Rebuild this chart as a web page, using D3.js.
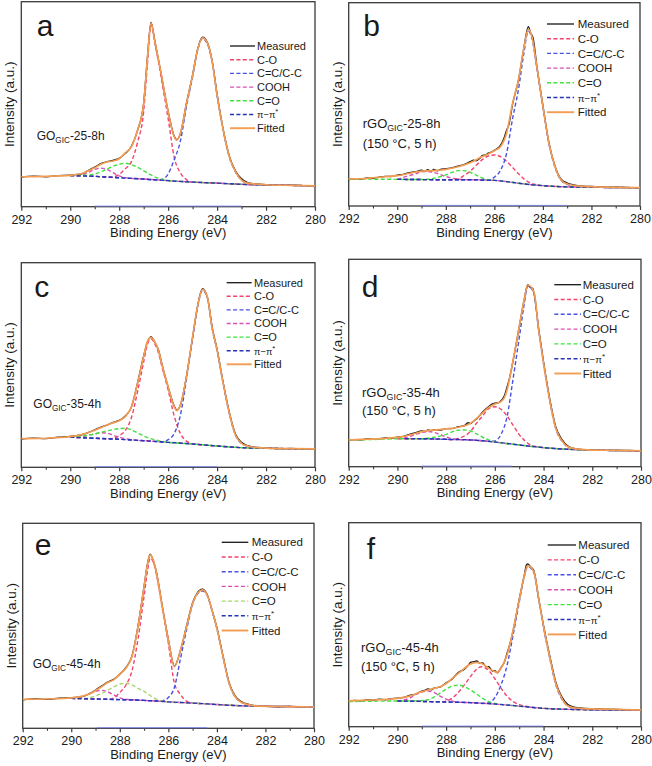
<!DOCTYPE html>
<html><head><meta charset="utf-8">
<script src="https://cdn.jsdelivr.net/npm/d3@7"></script>
<style>
body{margin:0;background:#fff}
svg{display:block}
text{font-family:"Liberation Sans",Arial,Helvetica,sans-serif;fill:#1a1a1a}
</style>
</head><body>
<svg id="chart" width="652" height="766"></svg>
<script>
// ---------- shared labels / ticks ----------
const seriesNames = ["Measured","C-O","C=C/C-C","COOH","C=O","π−π","Fitted"];
const majorTicks = [292,290,288,286,284,282,280];
const minorTicks = [291,289,287,285,283,281];
const xTitle = "Binding Energy (eV)";
const yTitle = "Intensity (a.u.)";

// ---------- panel a : GO_GIC-25-8h ----------
const a_measured = [[292,14.4],[291.5,14.9],[291,14.6],[290.5,15.2],[290,15.4],[289.5,16.1],[289.25,17.8],[289,19.3],[288.75,21.0],[288.5,21.9],[288.25,22.6],[288,23.6],[287.75,26.0],[287.5,29.5],[287.25,37.2],[287,50.6],[286.85,72.3],[286.7,89.9],[286.55,81.3],[286.4,72],[286.25,62.4],[286,46.5],[285.75,34.3],[285.65,32.7],[285.5,35.6],[285.25,50.6],[285,64.3],[284.8,76.6],[284.6,82.7],[284.4,80.2],[284.2,70.9],[284,54.8],[283.75,37.6],[283.5,24.7],[283.25,17.5],[283,13.6],[282.75,11.8],[282.5,11.2],[282,10.8],[281.5,10.4],[281,10.5],[280.5,10.3],[280,10.2]];
const a_fitted = [[292,14.6],[291,14.8],[290.5,15.0],[290,15.3],[289.5,16.3],[289.25,17.6],[289,19.0],[288.75,20.7],[288.5,21.8],[288.25,22.3],[288,23.4],[287.75,26.3],[287.5,29.3],[287.25,37.4],[287,50.4],[286.85,72],[286.7,89.6],[286.55,81],[286.4,72],[286.25,62.6],[286,46.3],[285.75,34.1],[285.65,32.5],[285.5,35.8],[285.25,50.4],[285,64.2],[284.8,76.4],[284.6,82.4],[284.4,80],[284.2,70.7],[284,54.5],[283.75,37.4],[283.5,24.4],[283.25,17.1],[283,13.0],[282.75,11.5],[282.5,11.1],[282,10.7],[281,10.4],[280,10.2]];
const a_bg = [[290,15.2],[289,14.8],[288,14.1],[287,13.5],[286,12.7],[285,12.0],[284,11.5],[283,10.9],[282,10.6],[281,10.4],[280,10.2]];
const a_CO = [[288.5,14.45],[288.25,14.5],[288,15.8],[287.75,18.5],[287.5,22],[287.25,31.4],[287,46.5],[286.85,69],[286.7,88.8],[286.55,80],[286.4,71],[286.25,60.5],[286,43],[285.75,24],[285.5,16.5],[285.25,13.2],[285,12.0]];
const a_CC = [[286.5,13.0],[286.25,13.3],[286,16],[285.75,23],[285.5,32],[285.25,49],[285,63.5],[284.8,76],[284.6,82],[284.4,79.5],[284.2,70.5],[284,54.3],[283.75,37.2],[283.5,24.2],[283.25,17],[283,12.9],[282.75,11.4],[282.5,11.0]];
const a_COOH = [[289.75,15.1],[289.5,15.6],[289.25,16.8],[289,18.2],[288.75,18.8],[288.5,18.2],[288.25,16.6],[288,15.0],[287.75,14.2],[287.5,13.8]];
const a_CEO = [[289.5,15.2],[289,16],[288.5,18.3],[288.25,19.7],[288,20.7],[287.75,21.2],[287.5,20.5],[287.25,19.3],[287,17.5],[286.75,15.8],[286.5,14.3],[286.25,13.3],[286,12.8]];
const a_PI = [[290,15.2]];
const a_start = [290,290,290,290,290];
const a_zero = [289,283];

// ---------- panel b : rGO_GIC-25-8h ----------
const b_measured = [[292,13.0],[291.75,13.4],[291.5,13.2],[291.25,13.8],[291,13.6],[290.75,14.2],[290.5,14.6],[290.25,14.5],[290,15.2],[289.75,15.6],[289.5,16.4],[289.25,16.9],[289,17.6],[288.85,17.0],[288.75,17.9],[288.6,17.1],[288.5,18.0],[288.35,17.3],[288.25,17.9],[288,18.4],[287.75,18.8],[287.5,19.6],[287.25,20.4],[287,21.8],[286.85,22.6],[286.75,22.2],[286.6,23.4],[286.5,24.8],[286.35,25.2],[286.25,26.0],[286.1,26.6],[286,27.4],[285.75,29.8],[285.6,33.5],[285.5,37.2],[285.4,40],[285.25,50],[285,62.3],[284.8,76.5],[284.6,88.2],[284.5,85],[284.4,82.5],[284.25,69],[284,49.5],[283.75,31],[283.5,19.6],[283.25,13.2],[283,11.3],[282.75,10.4],[282.5,9.9],[282,9.6],[281.5,9.3],[281,9.3],[280.5,9.1],[280,9.0]];
const b_fitted = [[292,13.3],[291.5,13.4],[291,13.9],[290.5,14.4],[290,14.9],[289.5,16.1],[289,17.2],[288.5,17.4],[288,18.0],[287.5,19.3],[287,21.3],[286.5,24.3],[286.25,25.6],[286,27.2],[285.75,29.2],[285.5,35.7],[285.25,50.5],[285,62.5],[284.8,76.7],[284.6,86.9],[284.45,83.3],[284.25,68.5],[284,48.9],[283.75,30.8],[283.5,19.3],[283.25,12.8],[283,10.8],[282.75,10.2],[282.5,9.8],[282,9.5],[281,9.2],[280,9.0]];
const b_bg = [[292,13.3],[291,13.2],[290,13.1],[289,13.0],[288,12.9],[287,12.9],[286.5,12.8],[286,12.6],[285.5,12.0],[285,11.2],[284.5,10.5],[284,10.0],[283,9.4],[282,9.2],[281,9.1],[280,9.0]];
const b_CO = [[287.75,12.9],[287.5,13.3],[287.25,15],[287,17],[286.75,20],[286.5,22.8],[286.25,24.6],[286,25.1],[285.75,24.3],[285.5,22],[285.25,19],[285,15.8],[284.75,13],[284.5,11.2],[284.25,10.4]];
const b_CC = [[286.25,12.7],[286,14.2],[285.75,17.5],[285.5,25.7],[285.25,43],[285,57.8],[284.8,74],[284.6,86],[284.45,82.5],[284.25,68],[284,48.5],[283.75,30.5],[283.5,19],[283.25,12.6],[283,10.6],[282.75,10],[282.5,9.7]];
const b_COOH = [[290,13.1],[289.5,15.0],[289.25,15.8],[289,16.8],[288.75,16.9],[288.5,16.5],[288.25,15.6],[288,14.5],[287.5,13.2],[287,12.9]];
const b_CEO = [[289,13.0],[288.5,13.6],[288,15.3],[287.75,16.5],[287.5,17.4],[287.25,17.4],[287,16.6],[286.75,15.2],[286.5,13.8],[286.25,12.9],[286,12.6]];
const b_PI = [[290,13.1]];
const b_start = [290,290,290,292,290];
const b_zero = [289,283];

// ---------- panel c : GO_GIC-35-4h ----------
const c_measured = [[292,13.8],[291.5,14.3],[291,14.0],[290.5,14.7],[290,15.1],[289.5,16.0],[289,18.3],[288.75,19.7],[288.5,20.6],[288.25,22.0],[288,22.9],[287.75,25.1],[287.5,29.4],[287.25,41.3],[287,54.4],[286.85,61.0],[286.7,63.9],[286.55,61.2],[286.4,57.6],[286.25,50.3],[286,39.2],[285.75,29.9],[285.65,27.9],[285.5,30.3],[285.25,44.6],[285,63.6],[284.8,78.7],[284.6,87.3],[284.4,83.2],[284.2,68.4],[284,57.6],[283.75,41.3],[283.5,26.8],[283.25,16.3],[283,12.2],[282.75,10.6],[282.5,9.9],[282,9.5],[281.5,9.1],[281,9.2],[280.5,9.0],[280,9.0]];
const c_fitted = [[292,14.0],[291,14.2],[290.5,14.5],[290,15.0],[289.5,16.1],[289,18.1],[288.75,19.4],[288.5,20.7],[288.25,21.7],[288,22.8],[287.75,24.8],[287.5,29.6],[287.25,41.0],[287,54.1],[286.85,61.4],[286.7,63.5],[286.55,61.4],[286.4,57.3],[286.25,50.0],[286,39.4],[285.75,29.6],[285.65,27.7],[285.5,30.5],[285.25,44.3],[285,63.8],[284.8,78.5],[284.6,87.0],[284.4,83.4],[284.2,68.0],[284,57.3],[283.75,41.0],[283.5,26.4],[283.25,15.8],[283,11.7],[282.75,10.4],[282.5,9.8],[282,9.4],[281,9.1],[280,9.0]];
const c_bg = [[290,14.7],[289,14.2],[288,13.7],[287,13.0],[286,12.2],[285,11.4],[284,10.4],[283,9.6],[282,9.3],[281,9.1],[280,9.0]];
const c_CO = [[288.5,13.95],[288.25,14.1],[288,15.5],[287.75,18],[287.5,24.3],[287.25,37],[287,51.5],[286.85,60],[286.7,62.8],[286.55,60.5],[286.4,56],[286.25,49],[286,37.8],[285.75,25],[285.5,16.5],[285.25,12.8],[285,11.5]];
const c_CC = [[286.5,12.6],[286.25,12.4],[286,13.5],[285.75,16.5],[285.5,25.5],[285.25,43],[285,63],[284.8,78],[284.6,86.5],[284.4,83],[284.2,67.6],[284,57],[283.75,40.8],[283.5,26.2],[283.25,15.7],[283,11.6],[282.75,10.3],[282.5,9.7]];
const c_COOH = [[289.75,14.6],[289.5,15.0],[289.25,15.7],[289,16.3],[288.75,16.9],[288.5,16.7],[288.25,15.7],[288,14.6],[287.75,14.0],[287.5,13.5],[287.25,13.1]];
const c_CEO = [[289.5,15.2],[289,16.3],[288.5,17.8],[288,18.9],[287.75,19.1],[287.5,18.3],[287.25,16.8],[287,15.3],[286.5,13.3],[286.25,12.6],[286,12.2]];
const c_PI = [[290,14.7]];
const c_start = [290,290,290,290,290];
const c_zero = [289,284];

// ---------- panel d : rGO_GIC-35-4h ----------
const d_measured = [[292,12.7],[291.75,13.1],[291.5,12.9],[291.25,13.5],[291,13.2],[290.75,13.4],[290.5,13.9],[290.25,13.6],[290,14.3],[289.75,14.6],[289.5,15.6],[289.25,16.4],[289,17.3],[288.85,16.9],[288.75,17.8],[288.6,17.3],[288.5,17.9],[288.25,17.6],[288,18.4],[287.75,18.4],[287.5,19.3],[287.25,19.8],[287.1,21.2],[287,20.8],[286.85,22.2],[286.75,23.0],[286.5,26.4],[286.25,29.0],[286.1,30.3],[286,30.6],[285.85,30.9],[285.75,31.8],[285.6,34.5],[285.5,38.5],[285.4,42.6],[285.25,51.2],[285,67.3],[284.8,80.2],[284.65,87.8],[284.55,86.5],[284.45,86.0],[284.4,84.0],[284.2,66.5],[284,50.5],[283.75,33.0],[283.5,19.3],[283.25,13.2],[283,10.0],[282.75,8.8],[282.5,8.4],[282,8.1],[281.5,7.9],[281,7.9],[280.5,7.8],[280,7.7]];
const d_fitted = [[292,12.9],[291.5,13.2],[291,13.3],[290.5,13.7],[290,14.1],[289.5,15.3],[289,16.9],[288.75,17.4],[288.5,17.7],[288,18.2],[287.5,19.0],[287,20.9],[286.75,23.3],[286.5,26.0],[286.25,28.6],[286,30.2],[285.75,31.4],[285.6,33.5],[285.5,37.0],[285.25,51.4],[285,67.5],[284.8,80.4],[284.65,87.6],[284.4,84.4],[284.2,65.9],[284,49.8],[283.75,32.2],[283.5,18.5],[283.25,12.5],[283,9.6],[282.75,8.7],[282.5,8.4],[282,8.0],[281,7.9],[280,7.7]];
const d_bg = [[292,12.9],[291,13.1],[290,13.5],[289,13.5],[288,13.2],[287,12.9],[286.5,12.5],[286,11.9],[285,10.5],[284,9.2],[283,8.4],[282,8.0],[281,7.8],[280,7.7]];
const d_CO = [[287.75,13.0],[287.5,13.6],[287.25,14.8],[287,17],[286.75,21],[286.5,24.5],[286.25,28],[286,28.9],[285.75,27.7],[285.5,24.5],[285.25,20],[285,15.5],[284.75,12.3],[284.5,10.2],[284.25,9.6]];
const d_CC = [[286.25,12.2],[286,12.4],[285.75,15.5],[285.5,24],[285.25,42.5],[285,62],[284.8,78],[284.65,87],[284.4,84],[284.2,65.5],[284,49.5],[283.75,32],[283.5,18.4],[283.25,12.4],[283,9.5],[282.75,8.6],[282.5,8.3]];
const d_COOH = [[290,13.5],[289.5,14.5],[289.25,15.6],[289,16.5],[288.75,16.9],[288.5,16.5],[288.25,15.5],[288,14.3],[287.75,13.5],[287.5,13.1]];
const d_CEO = [[289,13.5],[288.5,14.2],[288,15.6],[287.75,16.8],[287.5,17.6],[287.25,17.7],[287,17.2],[286.75,15.8],[286.5,14.2],[286.25,12.9],[286,12.0]];
const d_PI = [[289.7,13.5]];
const d_start = [290,289.7,290,292,289.7];
const d_zero = [289,285.3];

// ---------- panel e : GO_GIC-45-4h ----------
const e_measured = [[292,13.9],[291.5,14.4],[291,14.1],[290.5,14.7],[290,14.9],[289.5,15.6],[289.25,16.9],[289,18.7],[288.75,20.6],[288.5,22.5],[288.25,23.9],[288,26.4],[287.75,29.6],[287.5,35.2],[287.25,49.9],[287,69.3],[286.85,80.8],[286.75,85.0],[286.6,81.0],[286.5,76.7],[286.25,59.6],[286,43.4],[285.75,30.4],[285.5,38.0],[285.25,49.9],[285,61.3],[284.8,66.2],[284.6,67.9],[284.4,65.3],[284.2,57.5],[284,49.1],[283.75,35.4],[283.5,22.4],[283.25,15.8],[283,13.0],[282.75,11.9],[282.5,11.2],[282,10.8],[281.5,10.5],[281,10.7],[280.5,10.5],[280,10.4]];
const e_fitted = [[292,14.1],[291,14.3],[290.5,14.5],[290,14.8],[289.5,15.8],[289.25,16.7],[289,18.4],[288.75,20.3],[288.5,22.3],[288.25,23.6],[288,26.5],[287.75,29.3],[287.5,35.0],[287.25,49.6],[287,69.1],[286.85,80.5],[286.75,84.6],[286.6,81.3],[286.5,76.4],[286.25,59.3],[286,43.1],[285.75,30.1],[285.5,38.2],[285.25,49.6],[285,61],[284.8,65.9],[284.6,67.5],[284.4,65],[284.2,57.7],[284,48.8],[283.75,35],[283.5,22],[283.25,15.4],[283,12.7],[282.75,11.7],[282.5,11.1],[282,10.7],[281,10.6],[280,10.4]];
const e_bg = [[290,14.6],[289,14.3],[288,14.0],[287,13.6],[286.5,13.3],[286,12.9],[285,12.3],[284.4,11.9],[284,11.6],[283,11.0],[282,10.7],[281,10.6],[280,10.4]];
const e_CO = [[288.5,14.15],[288.25,14.8],[288,17.5],[287.75,21],[287.5,28],[287.25,43.5],[287,64.5],[286.85,77.5],[286.75,83],[286.6,80.5],[286.5,75.5],[286.25,58.5],[286,41.5],[285.75,22],[285.5,16.5],[285.25,13.2],[285,12.3]];
const e_CC = [[286.5,13.3],[286.25,13.4],[286,15],[285.75,20],[285.5,34],[285.25,48],[285,60.5],[284.8,65.5],[284.6,67],[284.4,64.8],[284.2,57.5],[284,48.6],[283.75,35],[283.5,22],[283.25,15.4],[283,12.7],[282.75,11.6],[282.5,11.0]];
const e_COOH = [[289.75,14.8],[289.5,15.6],[289.25,17.0],[289,18],[288.75,18.5],[288.5,17.8],[288.25,16.3],[288,14.8],[287.75,14.2]];
const e_CEO = [[289.5,14.5],[289,15.8],[288.5,18.5],[288.25,20.2],[288,21.5],[287.75,22],[287.5,21.2],[287.25,19.5],[287,18],[286.75,16],[286.5,14.2],[286.25,13.3],[286,12.9]];
const e_PI = [[290,14.6]];
const e_start = [290,290,290,290,290];
const e_zero = [288.95,284.4];

// ---------- panel f : rGO_GIC-45-4h ----------
const f_measured = [[292,12.4],[291.75,12.9],[291.5,12.7],[291.25,13.2],[291,13.0],[290.75,13.5],[290.5,13.2],[290.25,13.8],[290,14.0],[289.75,14.4],[289.5,15.3],[289.25,16.0],[289,17.5],[288.85,17.9],[288.75,18.5],[288.6,18.1],[288.5,18.9],[288.25,19.4],[288,21.5],[287.75,23.4],[287.5,26.6],[287.25,28.2],[287.1,30.0],[287,31.5],[286.85,31.9],[286.75,32.2],[286.6,31.0],[286.5,31.3],[286.35,29.2],[286.25,29.4],[286.1,27.3],[286,27.5],[285.9,26.4],[285.75,28.9],[285.6,32.0],[285.5,36],[285.4,39.8],[285.25,47.0],[285,62.5],[284.8,73.8],[284.7,79.3],[284.65,79.8],[284.55,78.5],[284.4,76.5],[284.2,62.6],[284,49.6],[283.75,35.0],[283.5,22.0],[283.25,14.6],[283,10.9],[282.75,9.6],[282.5,9.2],[282,8.8],[281.5,8.6],[281,8.5],[280.5,8.3],[280,8.2]];
const f_fitted = [[292,12.7],[291.5,12.9],[291,13.1],[290.5,13.4],[290,13.9],[289.5,15.0],[289,17.2],[288.75,18.0],[288.5,18.8],[288.25,19.6],[288,21.2],[287.75,23.7],[287.5,26.1],[287.25,28.6],[287,30.7],[286.75,31.5],[286.5,30.7],[286.25,28.6],[286,27.0],[285.9,26.6],[285.75,28.6],[285.5,35.1],[285.25,47.4],[285,62.1],[284.8,73.5],[284.65,79.0],[284.4,76.0],[284.2,62.9],[284,49],[283.75,34.3],[283.5,21.2],[283.25,13.9],[283,10.1],[282.75,9.3],[282.5,9.0],[282,8.7],[281,8.5],[280,8.2]];
const f_bg = [[292,12.3],[291,12.5],[290,12.6],[289,12.4],[288,12.1],[287,11.8],[286,11.1],[285,10.1],[284,9.0],[283,8.5],[282,8.3],[281,8.2],[280,8.2]];
const f_CO = [[288.25,12.15],[288,12.5],[287.75,14],[287.5,16.8],[287.25,20.5],[287,24.6],[286.75,28.2],[286.55,29.4],[286.25,27.5],[286,23.5],[285.75,19],[285.5,15],[285.25,12.3],[285,10.8],[284.75,10.0]];
const f_CC = [[286.5,11.4],[286.25,11.7],[286,14.3],[285.75,20.4],[285.5,30],[285.25,45],[285,61],[284.8,73],[284.65,78.5],[284.4,75.5],[284.2,62.5],[284,48.5],[283.75,33.8],[283.5,20.8],[283.25,13.6],[283,10.1],[282.75,9.2],[282.5,8.9]];
const f_COOH = [[290,12.6],[289.5,14.0],[289.25,15.8],[289,17],[288.75,17.5],[288.5,16.8],[288.25,15],[288,13.5],[287.75,12.5],[287.5,12.0]];
const f_CEO = [[289,12.7],[288.75,13.2],[288.5,14.5],[288.25,16.5],[288,18.4],[287.75,19.9],[287.5,20.4],[287.25,19.7],[287,18],[286.75,16],[286.5,13.9],[286.25,12.3],[286,11.4]];
const f_PI = [[290,12.6]];
const f_start = [290,290,290,292,290];
const f_zero = [289,284];

// ---------- panel table ----------
const panels = [
  {id:"a", name:["GO","GIC","-25-8h"], line2:null, measured:a_measured, fitted:a_fitted, bg:a_bg, comps:[a_CO,a_CC,a_COOH,a_CEO,a_PI], starts:a_start, zero:a_zero},
  {id:"b", name:["rGO","GIC","-25-8h"], line2:"(150 °C, 5 h)", measured:b_measured, fitted:b_fitted, bg:b_bg, comps:[b_CO,b_CC,b_COOH,b_CEO,b_PI], starts:b_start, zero:b_zero},
  {id:"c", name:["GO","GIC","-35-4h"], line2:null, measured:c_measured, fitted:c_fitted, bg:c_bg, comps:[c_CO,c_CC,c_COOH,c_CEO,c_PI], starts:c_start, zero:c_zero},
  {id:"d", name:["rGO","GIC","-35-4h"], line2:"(150 °C, 5 h)", measured:d_measured, fitted:d_fitted, bg:d_bg, comps:[d_CO,d_CC,d_COOH,d_CEO,d_PI], starts:d_start, zero:d_zero},
  {id:"e", name:["GO","GIC","-45-4h"], line2:null, measured:e_measured, fitted:e_fitted, bg:e_bg, comps:[e_CO,e_CC,e_COOH,e_CEO,e_PI], starts:e_start, zero:e_zero},
  {id:"f", name:["rGO","GIC","-45-4h"], line2:"(150 °C, 5 h)", measured:f_measured, fitted:f_fitted, bg:f_bg, comps:[f_CO,f_CC,f_COOH,f_CEO,f_PI], starts:f_start, zero:f_zero}
];

// ---------- layout / style (positions, not data) ----------
const layout = {
  a:{x0:21.3,x1:315,y0:1.7,y1:206.7, letter:[15.5,34.5], sample:[15.4,138.2,0,12], legend:[208.7,233.7,235.7,44.3,13.7,11]},
  b:{x0:348.7,x1:640,y0:2.7,y1:206, letter:[14.5,33.5], sample:[14,124.8,145.6,13], legend:[198.3,225.3,229,21.3,14.7,11.5]},
  c:{x0:21.3,x1:315,y0:262.7,y1:467.3, letter:[13,34], sample:[12,145.6,0,12], legend:[205.4,230.4,232.7,20,13.6,11]},
  d:{x0:348.7,x1:641,y0:259.3,y1:466.7, letter:[13,37.4], sample:[13.3,137.4,155.7,13], legend:[205.6,232.3,234,25.4,14.8,11.5]},
  e:{x0:22.7,x1:314,y0:523.3,y1:728.3, letter:[12,31.7], sample:[10,145,0,12], legend:[199,225.6,229,19,14.7,11.5]},
  f:{x0:348.7,x1:641,y0:522.7,y1:726.7, letter:[18,36.6], sample:[12.3,129,148,13], legend:[199,227.3,229.6,22.3,14.9,11.5]}
};
const colors = {measured:"#161616", comps:["#f4426b","#4a52e2","#d651b5","#3ee23c","#2733b5"], fitted:"#f39c52"};
const colorsEgreen = "#a9d46c";

const svg = d3.select("#chart");

function compLine(bg, comp, start){
  const hi = comp[0][0], lo = comp[comp.length-1][0];
  const left = bg.filter(d => d[0] <= start + 1e-6 && d[0] > hi + 0.05);
  const right = bg.filter(d => d[0] < lo - 0.05);
  return left.concat(comp, right);
}

panels.forEach(p => {
  const L = layout[p.id];
  const x = d3.scaleLinear().domain([292,280]).range([L.x0, L.x1]);
  const y = d3.scaleLinear().domain([0,100]).range([L.y1, L.y0]);
  const g = svg.append("g");
  const line = d3.line().x(d => x(d[0])).y(d => y(d[1])).curve(d3.curveMonotoneX);

  // frame
  g.append("rect").attr("x", L.x0).attr("y", L.y0).attr("width", L.x1 - L.x0).attr("height", L.y1 - L.y0)
    .attr("fill", "none").attr("stroke", "#3a3a3a").attr("stroke-width", 1.3);

  // bottom axis ticks
  const ax = g.append("g").attr("transform", `translate(0,${L.y1})`)
    .call(d3.axisBottom(x).tickValues(majorTicks).tickSize(4).tickPadding(4).tickFormat(d3.format("d")));
  ax.select(".domain").remove();
  ax.selectAll("line").attr("stroke", "#3a3a3a").attr("stroke-width", 1.2);
  ax.selectAll("text").style("font-size", "12.5px").style("font-family", "'Liberation Sans',Arial,sans-serif").attr("fill", "#1a1a1a");
  const axm = g.append("g").attr("transform", `translate(0,${L.y1})`)
    .call(d3.axisBottom(x).tickValues(minorTicks).tickSize(2.5).tickFormat(""));
  axm.select(".domain").remove();
  axm.selectAll("line").attr("stroke", "#3a3a3a").attr("stroke-width", 1.1);

  // faint blue line lying on the bottom axis
  g.append("line").attr("x1", x(p.zero[0])).attr("x2", x(p.zero[1])).attr("y1", L.y1 - 0.6).attr("y2", L.y1 - 0.6)
    .attr("stroke", "#7a82e8").attr("stroke-width", 0.9);

  // axis titles
  g.append("text").attr("x", (L.x0 + L.x1) / 2).attr("y", L.y1 + 30.6).attr("text-anchor", "middle")
    .style("font-size", "13px").text(xTitle);
  g.append("text").attr("transform", `translate(${L.x0 - 7.2},${(L.y0 + L.y1) / 2}) rotate(-90)`)
    .attr("text-anchor", "middle").style("font-size", "13.5px").text(yTitle);

  const plot = g.append("g");
  // measured
  plot.append("path").attr("d", line(p.measured)).attr("fill", "none").attr("stroke", colors.measured).attr("stroke-width", 1.3);
  // components
  p.comps.forEach((c, i) => {
    let col = colors.comps[i];
    if (p.id === "e" && i === 3) col = colorsEgreen;
    plot.append("path").attr("d", line(compLine(p.bg, c, p.starts[i])))
      .attr("fill", "none").attr("stroke", col).attr("stroke-width", 1.4).attr("stroke-dasharray", "4,2.4");
  });
  // fitted
  plot.append("path").attr("d", line(p.fitted)).attr("fill", "none").attr("stroke", colors.fitted).attr("stroke-width", 1.7);

  // panel letter
  g.append("text").attr("x", L.x0 + L.letter[0]).attr("y", L.y0 + L.letter[1]).style("font-size", "30px").text(p.id);

  // sample label
  const s = L.sample;
  const t = g.append("text").attr("x", L.x0 + s[0]).attr("y", L.y0 + s[1]).style("font-size", s[3] + "px");
  t.append("tspan").text(p.name[0]);
  t.append("tspan").attr("dy", 3).style("font-size", (s[3] * 0.68) + "px").text(p.name[1]);
  t.append("tspan").attr("dy", -3).text(p.name[2]);
  if (p.line2) {
    g.append("text").attr("x", L.x0 + s[0]).attr("y", L.y0 + s[2]).style("font-size", s[3] + "px").text(p.line2);
  }

  // legend
  const lg = L.legend;
  seriesNames.forEach((nm, i) => {
    const yy = L.y0 + lg[3] + i * lg[4];
    let col, dash = null, w = 1.4;
    if (i === 0) { col = colors.measured; w = 1.3; }
    else if (i === 6) { col = colors.fitted; w = 1.9; }
    else { col = colors.comps[i - 1]; dash = "4,2.4"; if (p.id === "e" && i === 4) col = colorsEgreen; }
    g.append("line").attr("x1", L.x0 + lg[0]).attr("x2", L.x0 + lg[1]).attr("y1", yy).attr("y2", yy)
      .attr("stroke", col).attr("stroke-width", w).attr("stroke-dasharray", dash);
    const tx = g.append("text").attr("x", L.x0 + lg[2]).attr("y", yy).attr("dy", "0.36em").style("font-size", lg[5] + "px");
    if (i === 5) {
      tx.append("tspan").style("font-size", (lg[5] * 0.85) + "px").text(nm);
      tx.append("tspan").attr("dy", -4).style("font-size", (lg[5] * 0.7) + "px").text("*");
    } else {
      tx.text(nm);
    }
  });
});
</script>
</body></html>
